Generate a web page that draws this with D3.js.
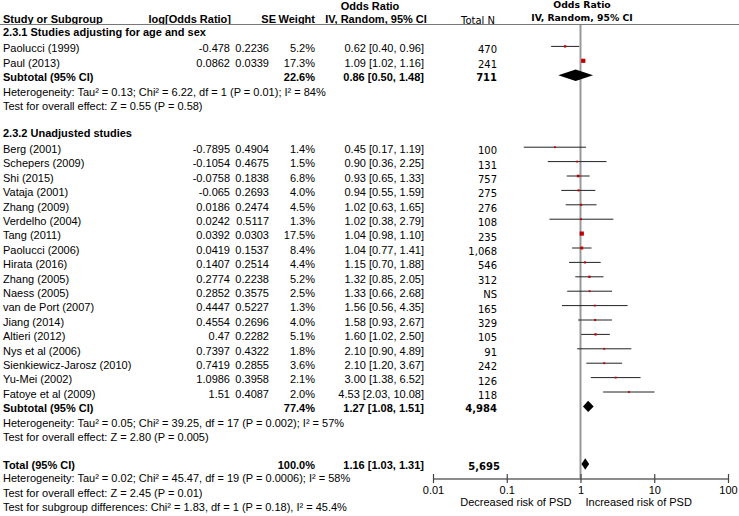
<!DOCTYPE html>
<html><head><meta charset="utf-8">
<script src="https://cdn.jsdelivr.net/npm/d3@7"></script>
<style>html,body{margin:0;padding:0;background:#fff}svg{display:block}</style>
</head><body>
<svg id="c" width="739" height="516"></svg>
<script>
// ---- data ----
const studies1 = ["Paolucci (1999)", "Paul (2013)"];
const logOR1 = [-0.478, 0.0862];
const se1 = [0.2236, 0.0339];
const weight1 = [5.2, 17.3];
const or1 = [0.62, 1.09];
const lo1 = [0.40, 1.02];
const hi1 = [0.96, 1.16];
const n1 = ["470", "241"];

const studies2 = ["Berg (2001)", "Schepers (2009)", "Shi (2015)", "Vataja (2001)", "Zhang (2009)", "Verdelho (2004)", "Tang (2011)", "Paolucci (2006)", "Hirata (2016)", "Zhang (2005)", "Naess (2005)", "van de Port (2007)", "Jiang (2014)", "Altieri (2012)", "Nys et al (2006)", "Sienkiewicz-Jarosz (2010)", "Yu-Mei (2002)", "Fatoye et al (2009)"];
const logOR2 = [-0.7895, -0.1054, -0.0758, -0.065, 0.0186, 0.0242, 0.0392, 0.0419, 0.1407, 0.2774, 0.2852, 0.4447, 0.4554, 0.47, 0.7397, 0.7419, 1.0986, 1.51];
const se2 = [0.4904, 0.4675, 0.1838, 0.2693, 0.2474, 0.5117, 0.0303, 0.1537, 0.2514, 0.2238, 0.3575, 0.5227, 0.2696, 0.2282, 0.4322, 0.2855, 0.3958, 0.4087];
const weight2 = [1.4, 1.5, 6.8, 4.0, 4.5, 1.3, 17.5, 8.4, 4.4, 5.2, 2.5, 1.3, 4.0, 5.1, 1.8, 3.6, 2.1, 2.0];
const or2 = [0.45, 0.90, 0.93, 0.94, 1.02, 1.02, 1.04, 1.04, 1.15, 1.32, 1.33, 1.56, 1.58, 1.60, 2.10, 2.10, 3.00, 4.53];
const lo2 = [0.17, 0.36, 0.65, 0.55, 0.63, 0.38, 0.98, 0.77, 0.70, 0.85, 0.66, 0.56, 0.93, 1.02, 0.90, 1.20, 1.38, 2.03];
const hi2 = [1.19, 2.25, 1.33, 1.59, 1.65, 2.79, 1.10, 1.41, 1.88, 2.05, 2.68, 4.35, 2.67, 2.50, 4.89, 3.67, 6.52, 10.08];
const n2 = ["100", "131", "757", "275", "276", "108", "235", "1,068", "546", "312", "NS", "165", "329", "105", "91", "242", "126", "118"];

const subLabels = ["Subtotal (95% CI)", "Subtotal (95% CI)", "Total (95% CI)"];
const subWeight = [22.6, 77.4, 100.0];
const subOR = [0.86, 1.27, 1.16];
const subLo = [0.50, 1.08, 1.03];
const subHi = [1.48, 1.51, 1.31];
const subN = ["711", "4,984", "5,695"];

const groupTitles = ["2.3.1 Studies adjusting for age and sex", "2.3.2 Unadjusted studies"];
const hetText1 = ["Heterogeneity: Tau² = 0.13; Chi² = 6.22, df = 1 (P = 0.01); I² = 84%", "Test for overall effect: Z = 0.55 (P = 0.58)"];
const hetText2 = ["Heterogeneity: Tau² = 0.05; Chi² = 39.25, df = 17 (P = 0.002); I² = 57%", "Test for overall effect: Z = 2.80 (P = 0.005)"];
const hetTextT = ["Heterogeneity: Tau² = 0.02; Chi² = 45.47, df = 19 (P = 0.0006); I² = 58%", "Test for overall effect: Z = 2.45 (P = 0.01)", "Test for subgroup differences: Chi² = 1.83, df = 1 (P = 0.18), I² = 45.4%"];

const tickVals = [0.01, 0.1, 1, 10, 100];
const tickLabels = ["0.01", "0.1", "1", "10", "100"];
const axisLabels = ["Decreased risk of PSD", "Increased risk of PSD"];

// ---- layout ----
const svg = d3.select("#c");
const AR = "'Liberation Sans', Arial, sans-serif";
const VD = "'DejaVu Sans', Verdana, sans-serif";
const x = d3.scaleLog().domain([0.01, 100]).range([433, 728]);
const rowH = 14.4;
const rowY = i => 32 + i * rowH;   // grid row index -> y
const axisY = 478.5;

function txt(xp, yp, s, o = {}) {
  return svg.append("text").attr("x", xp).attr("y", yp).attr("dy", "0.35em")
    .attr("font-family", o.ff || AR).attr("font-size", o.fs || 11)
    .attr("font-weight", o.bold ? "bold" : "normal")
    .attr("text-anchor", o.anchor || "start").attr("fill", "#000").text(s);
}

// header
txt(370, 6, "Odds Ratio", {bold: true, anchor: "middle"});
txt(3, 19, "Study or Subgroup", {bold: true});
txt(231, 19, "log[Odds Ratio]", {bold: true, anchor: "end"});
txt(276, 19, "SE", {bold: true, anchor: "end"});
txt(315, 19, "Weight", {bold: true, anchor: "end"});
txt(376, 19, "IV, Random, 95% CI", {bold: true, anchor: "middle"});
txt(478, 20, "Total N", {ff: VD, fs: 10, anchor: "middle"});
txt(582, 5, "Odds Ratio", {ff: VD, fs: 9.3, bold: true, anchor: "middle"});
txt(582, 18, "IV, Random, 95% CI", {ff: VD, fs: 9.3, bold: true, anchor: "middle"});
svg.append("line").attr("x1", 0).attr("x2", 739).attr("y1", 24.5).attr("y2", 24.5)
  .attr("stroke", "#777").attr("stroke-width", 1.2);

// null line
svg.append("line").attr("x1", x(1)).attr("x2", x(1)).attr("y1", 25).attr("y2", axisY)
  .attr("stroke", "#999").attr("stroke-width", 2);

function studyRow(r, name, lg, se, w, o, lo, hi, n) {
  const y = rowY(r);
  const ty = y + 2;
  txt(3, ty, name);
  txt(230, ty, String(lg), {anchor: "end"});
  txt(269, ty, String(se), {anchor: "end"});
  txt(315, ty, w.toFixed(1) + "%", {anchor: "end"});
  txt(424, ty, o.toFixed(2) + " [" + lo.toFixed(2) + ", " + hi.toFixed(2) + "]", {anchor: "end"});
  txt(497, y + 3.5, n, {ff: VD, fs: 10, anchor: "end"});
  svg.append("line").attr("x1", x(lo)).attr("x2", x(hi)).attr("y1", y).attr("y2", y)
    .attr("stroke", "#222").attr("stroke-width", 1);
  const s = Math.max(1.8, Math.sqrt(w) * 1.0);
  svg.append("rect").attr("x", x(o) - s / 2).attr("y", y - s / 2).attr("width", s).attr("height", s)
    .attr("fill", "#c00000");
}
function subRow(r, k) {
  const y = rowY(r);
  const ty = y + 1.5;
  txt(3, ty, subLabels[k], {bold: true});
  txt(315, ty, subWeight[k].toFixed(1) + "%", {bold: true, anchor: "end"});
  txt(424, ty, subOR[k].toFixed(2) + " [" + subLo[k].toFixed(2) + ", " + subHi[k].toFixed(2) + "]", {bold: true, anchor: "end"});
  txt(497 + (k === 2 ? 3 : 0), y + 2.5, subN[k], {ff: VD, fs: 10, bold: true, anchor: "end"});
  const h = 5.7;
  svg.append("polygon").attr("points", [
    [x(subLo[k]), y], [x(subOR[k]), y - h], [x(subHi[k]), y], [x(subOR[k]), y + h]
  ].map(p => p.join(",")).join(" ")).attr("fill", "#000");
}

// group 1
txt(3, rowY(0), groupTitles[0], {bold: true});
studies1.forEach((s, i) => studyRow(1 + i, s, logOR1[i], se1[i], weight1[i], or1[i], lo1[i], hi1[i], n1[i]));
subRow(3, 0);
hetText1.forEach((t, i) => txt(3, rowY(4.1 + i) + 1, t));

// group 2
txt(3, rowY(7), groupTitles[1], {bold: true});
studies2.forEach((s, i) => studyRow(8 + i, s, logOR2[i], se2[i], weight2[i], or2[i], lo2[i], hi2[i], n2[i]));
subRow(26, 1);
hetText2.forEach((t, i) => txt(3, rowY(27.1 + i) + 1, t));

// total
subRow(30, 2);
hetTextT.forEach((t, i) => txt(3, rowY(31.05 + i) - 0.5, t));

// axis
const ax = d3.axisBottom(x).tickValues(tickVals).tickFormat((d, i) => tickLabels[i]).tickSizeOuter(0).tickSize(0);
const g = svg.append("g").attr("transform", `translate(0,${axisY})`).call(ax);
g.select(".domain").attr("stroke", "#666").attr("stroke-width", 1.3);
g.selectAll(".tick").append("line").attr("y1", -4.5).attr("y2", 4.5).attr("stroke", "#444").attr("stroke-width", 1.2);
g.selectAll(".tick text").attr("y", 11.5).attr("dy", "0.35em").attr("font-family", AR).attr("font-size", 11).attr("fill", "#000");
txt(x(1) - 9, 502, axisLabels[0], {anchor: "end"});
txt(x(1) + 5, 502, axisLabels[1]);
</script>
</body></html>
